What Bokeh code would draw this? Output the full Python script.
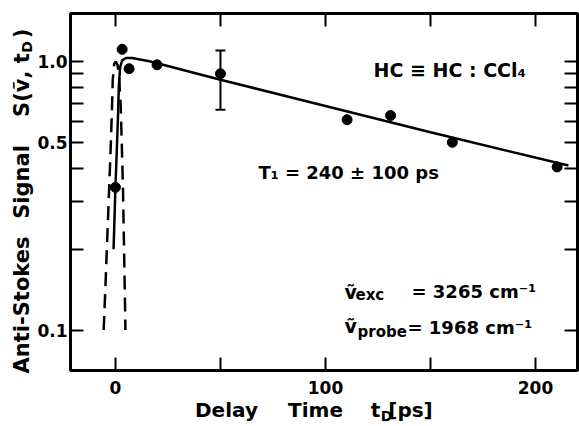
import math
from bokeh.plotting import figure
from bokeh.models import (ColumnDataSource, Range1d, FixedTicker, PrintfTickFormatter,
                          CustomJSTickFormatter, LinearAxis, LogAxis, Label, Whisker, TeeHead)
from bokeh.embed import file_html
from bokeh.resources import INLINE

# ---- data ----
point_t = [0.0, 3.2, 6.5, 19.8, 50.0, 110.3, 131.0, 160.4, 210.3]
point_s = [0.34, 1.11, 0.94, 0.972, 0.90, 0.607, 0.629, 0.500, 0.405]

err_t = [50.0]
err_lo = [0.661]
err_hi = [1.099]

fit_t = [-0.9, 0.0, 0.7, 1.2, 1.6, 2.2, 3.2, 5.0, 8.0, 16.7, 50.0, 83.3, 150.0, 215.7]
fit_s = [0.20, 0.34, 0.48, 0.62, 0.80, 0.95, 1.01, 1.03, 1.03, 1.0, 0.855, 0.736, 0.545, 0.41]

xcorr_t = [-5.6, -4.7, -3.9, -3.1, -2.3, -1.7, -1.3, -0.6, 0.2, 1.0, 1.8, 2.5, 3.0, 3.6, 4.1, 4.76]
xcorr_s = [0.10, 0.15, 0.22, 0.32, 0.47, 0.65, 0.85, 0.98, 1.0, 0.97, 0.86, 0.68, 0.5, 0.33, 0.2, 0.10]

x_ticks = [0, 100, 200]
x_minor = [50, 150]
y_ticks = [0.1, 0.5, 1.0]
y_minor = [0.2, 0.3, 0.4, 0.6, 0.7, 0.8, 0.9]
x_lim = (-21.4, 220.0)
y_lim = (0.0707, 1.509)

x_title_words = ["Delay", "Time", "t", "[ps]"]
x_title_sub = ["D"]
y_title_words = ["Anti-Stokes", "Signal", "S(ṽ, t", ")"]
y_title_sub = ["D"]

FONT = "DejaVu Sans"

# frame placement in page pixels
FL, FT, FR, FB = 70, 13, 577, 370
W, H = 579, 426

p = figure(width=W, height=H, x_range=Range1d(*x_lim), y_range=Range1d(*y_lim),
           y_axis_type="log", output_backend="svg", toolbar_location=None,
           min_border_left=FL, min_border_right=W - FR, min_border_top=FT,
           min_border_bottom=H - FB)
p.xgrid.visible = False
p.ygrid.visible = False
p.outline_line_color = "black"
p.outline_line_width = 3
p.background_fill_color = "white"
p.border_fill_color = "white"

top_ax = LinearAxis()
right_ax = LogAxis()
p.add_layout(top_ax, "above")
p.add_layout(right_ax, "right")

xt = FixedTicker(ticks=x_ticks, minor_ticks=x_minor)
yt = FixedTicker(ticks=y_ticks, minor_ticks=y_minor)

for ax in list(p.xaxis) + list(p.yaxis):
    ax.axis_line_width = 3
    ax.axis_line_color = "black"
    ax.major_tick_in = 13
    ax.major_tick_out = 0
    ax.minor_tick_in = 13
    ax.minor_tick_out = 0
    ax.major_tick_line_width = 2
    ax.minor_tick_line_width = 2
    ax.major_tick_line_color = "black"
    ax.minor_tick_line_color = "black"
    ax.major_label_text_font = FONT
    ax.major_label_text_font_style = "bold"
    ax.major_label_text_font_size = "17px"
    ax.major_label_text_color = "black"

for ax in p.xaxis:
    ax.ticker = xt
for ax in p.yaxis:
    ax.ticker = yt

p.below[0].major_label_standoff = 10
p.left[0].major_label_standoff = 3
p.left[0].formatter = PrintfTickFormatter(format="%.1f")
for ax in (top_ax, right_ax):
    ax.formatter = CustomJSTickFormatter(code="return ''")
    ax.major_label_standoff = 0


def px_to_x(X):
    return x_lim[0] + (X - FL) / (FR - FL) * (x_lim[1] - x_lim[0])


def px_to_y(Y):
    lo, hi = math.log10(y_lim[0]), math.log10(y_lim[1])
    return 10 ** (hi - (Y - FT) / (FB - FT) * (hi - lo))


def text_axis(kind, place, ticks, words, size, standoff):
    ax = kind(ticker=FixedTicker(ticks=ticks, minor_ticks=[]),
              formatter=CustomJSTickFormatter(args=dict(words=words), code="return words[index];"),
              axis_line_color=None, major_tick_line_color=None, minor_tick_line_color=None,
              major_tick_in=0, major_tick_out=0, minor_tick_in=0, minor_tick_out=0,
              major_label_standoff=standoff, major_label_text_font=FONT,
              major_label_text_font_style="bold", major_label_text_font_size=f"{size}px",
              major_label_text_color="black")
    if place == "left":
        ax.major_label_orientation = "vertical"
    p.add_layout(ax, place)


# axis titles as label rows (with subscripts)
text_axis(LinearAxis, "below", [px_to_x(X) for X in (226, 315, 375, 410)], x_title_words, 20, 1)
text_axis(LinearAxis, "below", [px_to_x(386)], x_title_sub, 14, -17)
text_axis(LogAxis, "left", [px_to_y(Y) for Y in (304.5, 181.5, 84.5, 33)], y_title_words, 21, 1)
text_axis(LogAxis, "left", [px_to_y(46.5)], y_title_sub, 14, -28)

# cross-correlation (dashed) and fit (solid)
p.line(xcorr_t, xcorr_s, line_dash="14 8", line_width=2.5, line_color="black")
p.line(fit_t, fit_s, line_width=2.5, line_color="black")
p.scatter(point_t, point_s, size=10, color="black")

esrc = ColumnDataSource(dict(t=err_t, lo=err_lo, hi=err_hi))
p.add_layout(Whisker(base="t", lower="lo", upper="hi", source=esrc, dimension="height",
                     line_width=2, line_color="black",
                     upper_head=TeeHead(size=10, line_width=2, line_color="black"),
                     lower_head=TeeHead(size=10, line_width=2, line_color="black")))


def txt(X, Y, s, size):
    p.add_layout(Label(x=X - FL, y=FB - Y, x_units="screen", y_units="screen", text=s,
                       text_font=FONT, text_font_style="bold", text_font_size=f"{size}px",
                       text_color="black", text_baseline="alphabetic", text_align="left"))


txt(373, 69.5, "HC ≡ HC : CCl₄", 19)
txt(258, 172, "T₁ = 240 ± 100 ps", 18)
txt(344, 291, "ṽ", 19)
txt(355, 294, "exc", 15)
txt(411, 291, "= 3265 cm⁻¹", 18)
txt(344, 325, "ṽ", 19)
txt(357, 331, "probe", 15)
txt(407, 327, "= 1968 cm⁻¹", 18)

open("out.html", "w").write(file_html(p, INLINE))
